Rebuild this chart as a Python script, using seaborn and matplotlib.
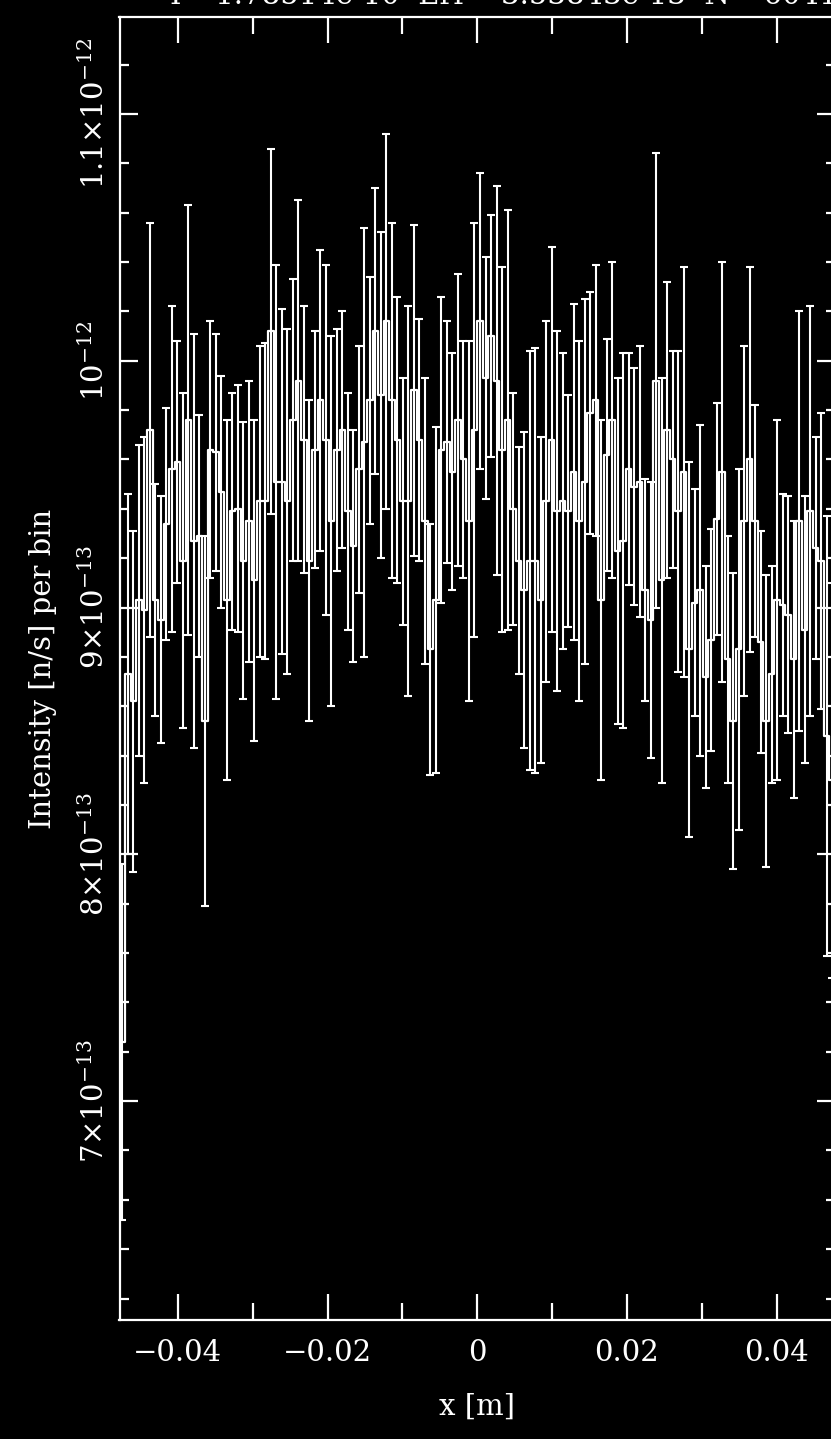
import numpy as np
import matplotlib
matplotlib.use("Agg")
import matplotlib.pyplot as plt
import seaborn as sns
from matplotlib.ticker import FixedLocator, MultipleLocator, FuncFormatter

# Monitor signal per bin, in units of 1e-13 n/s
intensity = [
    7.24, 8.73, 8.62, 9.03, 8.99, 9.72, 9.03, 8.95, 9.34, 9.56,
    9.59, 9.19, 9.76, 9.27, 9.29, 8.54, 9.64, 9.63, 9.47, 9.03,
    9.39, 9.40, 9.19, 9.35, 9.11, 9.43, 9.43, 10.12, 9.51, 9.51,
    9.43, 9.76, 9.92, 9.68, 9.19, 9.64, 9.84, 9.68, 9.35, 9.64,
    9.72, 9.39, 9.25, 9.56, 9.67, 9.84, 10.12, 9.86, 10.16, 9.84,
    9.68, 9.43, 9.43, 9.88, 9.68, 9.35, 8.83, 9.03, 9.64, 9.67,
    9.55, 9.76, 9.60, 9.35, 9.72, 10.16, 9.93, 10.10, 9.92, 9.64,
    9.76, 9.40, 9.19, 9.07, 9.19, 9.19, 9.03, 9.43, 9.68, 9.39,
    9.43, 9.39, 9.55, 9.35, 9.51, 9.79, 9.84, 9.03, 9.62, 9.76,
    9.23, 9.27, 9.56, 9.49, 9.51, 9.07, 8.95, 9.92, 9.11, 9.72,
    9.60, 9.39, 9.55, 8.83, 9.02, 9.07, 8.72, 8.87, 9.36, 9.55,
    8.79, 8.54, 8.83, 9.35, 9.60, 9.35, 8.86, 8.54, 8.73, 9.03,
    9.01, 8.97, 8.79, 9.35, 8.91, 9.39, 9.24, 9.19, 8.48, 8.30,
]
# Statistical error per bin, same units
errors = [
    0.72, 0.73, 0.69, 0.63, 0.70, 0.84, 0.47, 0.50, 0.47, 0.66,
    0.49, 0.68, 0.87, 0.84, 0.49, 0.75, 0.52, 0.48, 0.47, 0.73,
    0.48, 0.50, 0.56, 0.57, 0.65, 0.63, 0.64, 0.74, 0.88, 0.70,
    0.70, 0.57, 0.73, 0.54, 0.65, 0.48, 0.61, 0.71, 0.75, 0.49,
    0.48, 0.48, 0.47, 0.50, 0.87, 0.50, 0.58, 0.66, 0.76, 0.72,
    0.58, 0.50, 0.79, 0.67, 0.49, 0.58, 0.51, 0.70, 0.62, 0.49,
    0.48, 0.59, 0.48, 0.73, 0.84, 0.60, 0.49, 0.49, 0.79, 0.74,
    0.85, 0.47, 0.46, 0.64, 0.85, 0.86, 0.66, 0.73, 0.78, 0.73,
    0.60, 0.47, 0.68, 0.73, 0.74, 0.49, 0.55, 0.73, 0.47, 0.64,
    0.70, 0.76, 0.47, 0.48, 0.55, 0.45, 0.56, 0.92, 0.82, 0.60,
    0.44, 0.65, 0.83, 0.76, 0.46, 0.67, 0.45, 0.45, 0.47, 0.85,
    0.50, 0.60, 0.73, 0.71, 0.78, 0.47, 0.45, 0.59, 0.44, 0.73,
    0.45, 0.48, 0.56, 0.85, 0.54, 0.83, 0.45, 0.60, 0.89, 0.80,
]
x_range = (-0.0478, 0.0478)
y_range = (6.113e-13, 1.1393e-12)
y_major = [7e-13, 8e-13, 9e-13, 1e-12, 1.1e-12]
unit = 1e-13
header = "I= 1.78514e-10  Err= 3.53843e-13  N= 60417"

sns.set_theme(style="dark")
plt.rcParams.update({
    "font.family": ["DejaVu Serif"],
    "mathtext.fontset": "dejavuserif",
    "figure.facecolor": "black",
    "axes.facecolor": "black",
    "savefig.facecolor": "black",
    "text.color": "white",
    "axes.labelcolor": "white",
    "xtick.color": "white",
    "ytick.color": "white",
    "axes.edgecolor": "white",
    "axes.grid": False,
})

n = len(intensity)
edges = np.linspace(x_range[0], x_range[1], n + 1)
x = 0.5 * (edges[:-1] + edges[1:])
y = np.array(intensity) * unit
e = np.array(errors) * unit

fig = plt.figure(figsize=(8.31, 14.39), dpi=100)
W, H = 831, 1439
left, right, top, bottom = 119.5, 835.0, 17.0, 1320.0
ax = fig.add_axes([left / W, 1 - bottom / H, (right - left) / W, (bottom - top) / H])

# histogram outline through the bin values, error bars on top
sns.lineplot(x=x, y=y, drawstyle="steps-mid", color="white", linewidth=1.6,
             ax=ax, legend=False)
ax.errorbar(x, y, yerr=e, fmt="none", ecolor="white", elinewidth=1.5,
            capsize=2.6, capthick=1.5)

ax.set_xlim(*x_range)
ax.set_ylim(*y_range)

for s in ax.spines.values():
    s.set_color("white")
    s.set_linewidth(1.6)
    s.set_visible(True)

ax.xaxis.set_major_locator(MultipleLocator(0.02))
ax.xaxis.set_minor_locator(MultipleLocator(0.01))
ax.yaxis.set_major_locator(FixedLocator(y_major))
ax.yaxis.set_minor_locator(MultipleLocator(2e-14))


def xfmt(v, pos):
    if abs(v) < 1e-9:
        return "0"
    return f"{v:.2f}".replace("-", "\u2212")


def yfmt(v, pos):
    exp = int(np.floor(np.log10(v) + 1e-9))
    mant = v / 10 ** exp
    if abs(mant - 1) < 1e-6:
        return rf"10$^{{{exp}}}$"
    m = f"{mant:.1f}".rstrip("0").rstrip(".")
    return rf"{m}×10$^{{{exp}}}$"


ax.xaxis.set_major_formatter(FuncFormatter(xfmt))
ax.yaxis.set_major_formatter(FuncFormatter(yfmt))

ax.tick_params(axis="both", which="both", direction="in", colors="white",
               top=True, right=True, bottom=True, left=True, width=1.6)
ax.tick_params(axis="x", which="major", length=19, pad=14, labelsize=21)
ax.tick_params(axis="x", which="minor", length=12)
ax.tick_params(axis="y", which="major", length=13, pad=7, labelsize=21)
ax.tick_params(axis="y", which="minor", length=6.5)
for lab in ax.get_yticklabels():
    lab.set_rotation(90)
    lab.set_va("center")

ax.set_xlabel("x [m]", fontsize=21, labelpad=18)
ax.set_ylabel("Intensity [n/s] per bin", fontsize=21, labelpad=16)

# header line sits above the frame, mostly outside the canvas
fig.text(170 / W, 1 - 4 / H, header,
         fontsize=21, ha="left", va="baseline", color="white")

fig.savefig("out.png", dpi=100, facecolor="black")
